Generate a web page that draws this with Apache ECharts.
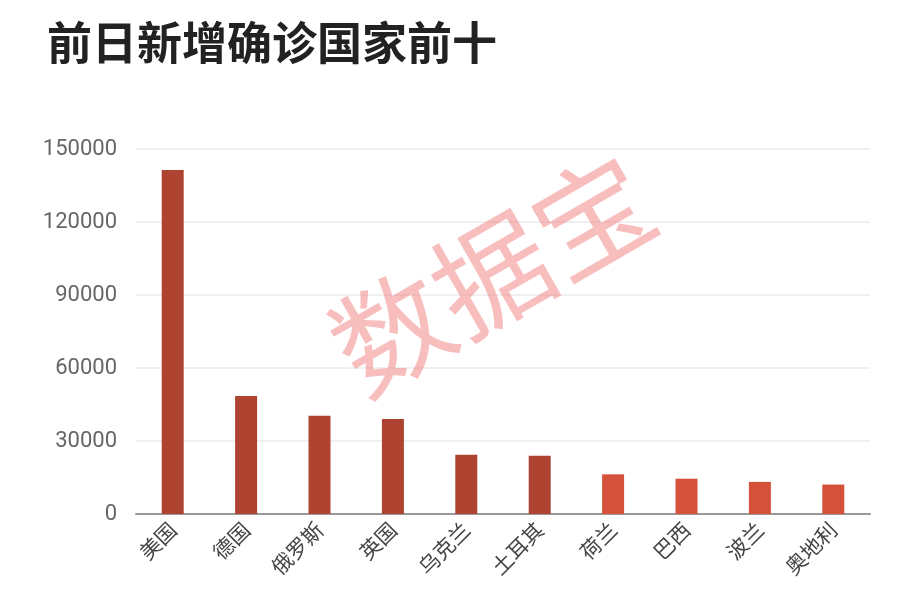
<!DOCTYPE html>
<html>
<head>
<meta charset="utf-8">
<script src="https://cdn.jsdelivr.net/npm/echarts@6/dist/echarts.min.js"></script>
<style>html,body{margin:0;padding:0;background:#fff}#c{width:900px;height:598px}</style>
</head>
<body>
<div id="c"></div>
<script>
var titleText = '前日新增确诊国家前十';
var categories = ['美国','德国','俄罗斯','英国','乌克兰','土耳其','荷兰','巴西','波兰','奥地利'];
var values = [141400, 48500, 40400, 39000, 24400, 23900, 16300, 14500, 13200, 12100];
var highlightCount = 6;
var yTicks = [0, 30000, 60000, 90000, 120000, 150000];
var watermark = '数据宝';

var chart = echarts.init(document.getElementById('c'), null, {renderer: 'canvas'});
chart.setOption({
  backgroundColor: '#fff',
  animation: false,
  title: {
    text: titleText, left: 42, top: 15,
    textStyle: {fontSize: 45, fontWeight: 'bold', color: '#222', fontFamily: 'Noto Sans CJK SC'}
  },
  grid: {left: 136, right: 30, top: 149, bottom: 84},
  xAxis: {
    type: 'category', data: categories,
    axisLine: {lineStyle: {color: '#999', width: 2}},
    axisTick: {show: false},
    axisLabel: {rotate: 45, fontSize: 21, color: '#444', margin: 12, fontFamily: 'Noto Sans CJK SC'}
  },
  yAxis: {
    type: 'value', min: yTicks[0], max: yTicks[yTicks.length-1], interval: 30000,
    axisLine: {show: false}, axisTick: {show: false},
    axisLabel: {fontSize: 22, color: '#666', margin: 19, fontFamily: 'Roboto',
      formatter: function(v){ return String(v); }},
    splitLine: {lineStyle: {color: '#f0f0f0', width: 2}}
  },
  series: [{
    type: 'bar', barWidth: 22,
    data: values.map(function(v, i){
      return {value: v, itemStyle: {color: i < highlightCount ? '#AD4330' : '#D6513B'}};
    })
  }],
  graphic: [{
    type: 'text',
    x: 492, y: 274, rotation: Math.PI / 6,
    style: {
      text: watermark, fontSize: 116, fill: 'rgba(240,110,110,0.45)',
      fontFamily: 'Noto Sans CJK SC', fontWeight: 'normal',
      textAlign: 'center', textVerticalAlign: 'middle'
    },
    z: 100
  }]
});
</script>
</body>
</html>
